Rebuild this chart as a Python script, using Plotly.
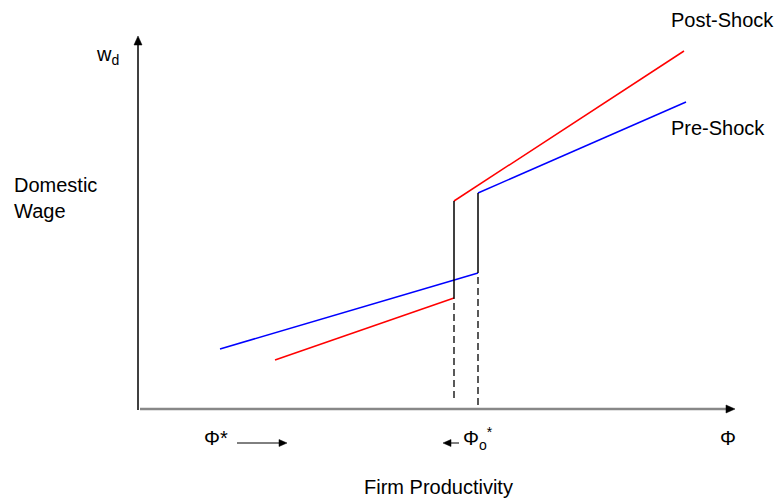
import plotly.graph_objects as go

# ---- data (productivity units on x, wage units on y; origin at axes corner) ----
phi_pre_low = [82, 340]
w_pre_low = [60, 136]
phi_pre_high = [340, 548]
w_pre_high = [216, 307]

phi_post_low = [137, 316]
w_post_low = [49, 111]
phi_post_high = [316, 546]
w_post_high = [208, 358]

dash_bottom = [11, 4]  # lower ends of the dashed cut-off markers (post, pre)

x_axis_end = 597
y_axis_end = 373

X_RANGE = 640
Y_RANGE = 409

FONT = "Liberation Sans, Arial, sans-serif"
BLACK = "#000000"

fig = go.Figure()

def seg(x, y, color, width=1.5, dash=None):
    fig.add_trace(go.Scatter(
        x=x, y=y, mode="lines",
        line=dict(color=color, width=width, dash=dash),
        hoverinfo="skip", showlegend=False))

# coloured wage schedules
seg(phi_pre_low, w_pre_low, "#0000ff")
seg(phi_pre_high, w_pre_high, "#0000ff")
seg(phi_post_low, w_post_low, "#ff0000")
seg(phi_post_high, w_post_high, "#ff0000")

# vertical jumps at the cut-offs
seg([phi_post_low[-1], phi_post_high[0]], [w_post_low[-1], w_post_high[0]], BLACK, 1.5)
seg([phi_pre_low[-1], phi_pre_high[0]], [w_pre_low[-1], w_pre_high[0]], BLACK, 1.5)

# dashed drop lines
seg([phi_post_low[-1], phi_post_low[-1]], [dash_bottom[0], w_post_low[-1]], BLACK, 1.3, "7px,4px")
seg([phi_pre_low[-1], phi_pre_low[-1]], [dash_bottom[1], w_pre_low[-1]], BLACK, 1.3, "7px,4px")

shapes = []

def P(x, y):
    return x / X_RANGE, y / Y_RANGE

def arrow_shape(x0, y0, x1, y1, color=BLACK, width=1.5, head_len=9, head_w=4, line_color=None):
    # coordinates in data units (1 unit = 1 px); drawn in paper space (not clipped)
    dx, dy = x1 - x0, y1 - y0
    L = (dx * dx + dy * dy) ** 0.5
    ux, uy = dx / L, dy / L
    bx, by = x1 - ux * head_len, y1 - uy * head_len
    a0 = P(x0, y0)
    a1 = P(bx + ux * 1, by + uy * 1)
    shapes.append(dict(type="line", xref="paper", yref="paper",
                       x0=a0[0], y0=a0[1], x1=a1[0], y1=a1[1],
                       line=dict(color=line_color or color, width=width)))
    tip = P(x1, y1)
    l = P(bx - uy * head_w, by + ux * head_w)
    r = P(bx + uy * head_w, by - ux * head_w)
    shapes.append(dict(type="path", xref="paper", yref="paper",
                       path=f"M {tip[0]},{tip[1]} L {l[0]},{l[1]} L {r[0]},{r[1]} Z",
                       fillcolor=color, line=dict(color=color, width=0.5)))

# axes
arrow_shape(2, 0, x_axis_end, 0, width=2.5, line_color="#888888")
arrow_shape(0, -1, 0, y_axis_end, width=1.5)
# direction arrows under the axis
arrow_shape(99, -34, 149, -34, width=1.0, head_len=8, head_w=3.5)
arrow_shape(321, -34, 305, -34, width=1.0, head_len=8, head_w=3.5)

annotations = []

def label(x, y, text, xanchor="left", size=20):
    annotations.append(dict(x=x / X_RANGE, y=y / Y_RANGE, xref="paper", yref="paper",
                            text=text, showarrow=False, xanchor=xanchor, yanchor="middle",
                            align="left", font=dict(family=FONT, size=size, color=BLACK)))

label(-44, 354, "w<sub>d</sub>")
label(-126, 211, "Domestic<br>Wage")
label(531, 389, "Post-Shock")
label(531, 281, "Pre-Shock")
label(64, -29, "Φ*")
label(323, -29, "Φ<sub>o</sub><sup>*</sup>")
label(580, -29, "Φ")
label(300, -78, "Firm Productivity", xanchor="center")

fig.update_layout(
    width=778, height=504,
    margin=dict(l=138, r=0, t=0, b=95),
    paper_bgcolor="white", plot_bgcolor="white",
    xaxis=dict(range=[0, X_RANGE], visible=False, fixedrange=True),
    yaxis=dict(range=[0, Y_RANGE], visible=False, fixedrange=True),
    annotations=annotations,
    shapes=shapes,
    showlegend=False,
)

fig.write_html("out.html", post_script="document.body.style.margin='0';",
               config={"displayModeBar": False})
